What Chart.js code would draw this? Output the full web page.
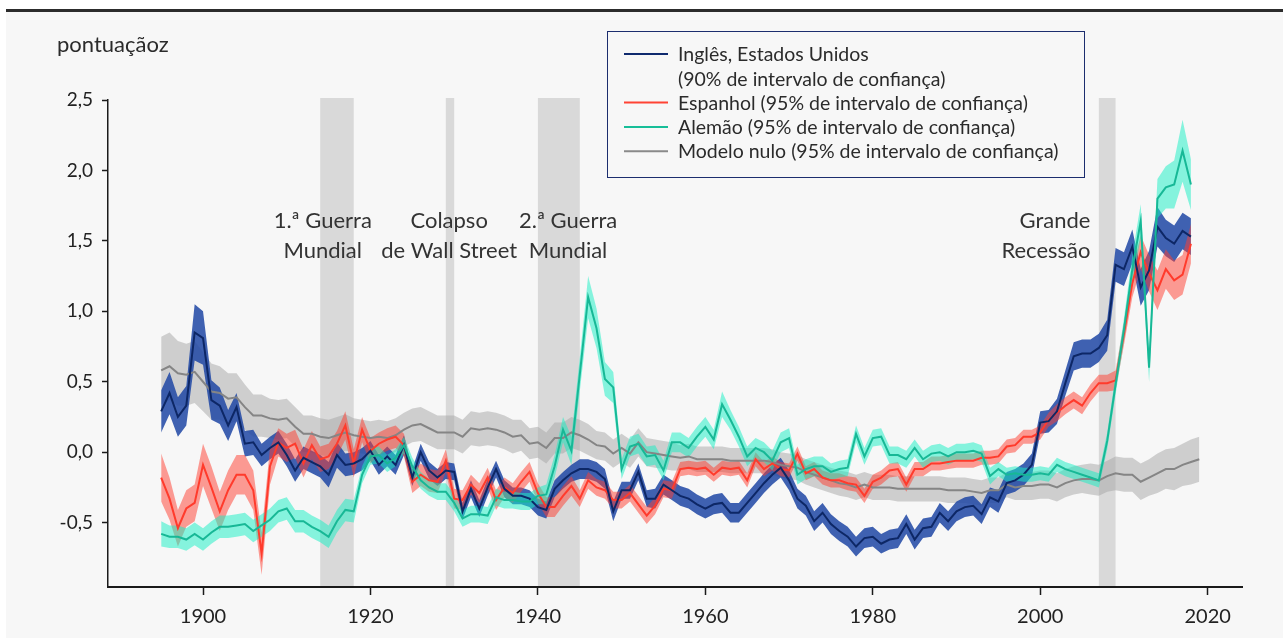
<!DOCTYPE html>
<html>
<head>
<meta charset="utf-8">
<script src="https://cdn.jsdelivr.net/npm/chart.js"></script>
<style>
  html, body { margin: 0; padding: 0; background: #fff; }
  #paper { position: absolute; left: 6px; top: 9px; width: 1277px; height: 626px; border-top: 3px solid #2c2c2c; background: #f7f7f7; }
  #chart { position: absolute; left: 0; top: 0; }
</style>
</head>
<body>
<div id="paper"></div>
<canvas id="chart" width="1283" height="638"></canvas>
<script>
// anos 1895..2019
const startYear = 1895;

const ingles = [
  0.29, 0.42, 0.25, 0.33, 0.85, 0.81, 0.37, 0.33, 0.19, 0.32,
  0.06, 0.07, -0.02, 0.03, 0.07, -0.02, -0.13, -0.04, -0.07, -0.10,
  -0.16, -0.02, -0.09, -0.08, -0.05, 0.01, -0.09, -0.03, -0.09, 0.05,
  -0.18, 0.00, -0.13, -0.18, -0.13, -0.14, -0.42, -0.26, -0.40, -0.25,
  -0.12, -0.26, -0.31, -0.31, -0.33, -0.39, -0.41, -0.26, -0.20, -0.15,
  -0.12, -0.12, -0.14, -0.19, -0.42, -0.27, -0.27, -0.14, -0.33, -0.33,
  -0.23, -0.27, -0.31, -0.33, -0.37, -0.40, -0.37, -0.36, -0.43, -0.43,
  -0.36, -0.29, -0.22, -0.16, -0.11, -0.20, -0.33, -0.38, -0.49, -0.43,
  -0.51, -0.56, -0.60, -0.67, -0.61, -0.60, -0.65, -0.62, -0.61, -0.51,
  -0.62, -0.54, -0.53, -0.43, -0.49, -0.42, -0.39, -0.38, -0.44, -0.32,
  -0.35, -0.22, -0.20, -0.16, -0.09, 0.21, 0.22, 0.29, 0.49, 0.68,
  0.70, 0.70, 0.74, 0.83, 1.33, 1.30, 1.46, 1.17, 1.29, 1.60,
  1.52, 1.48, 1.57, 1.53
];
const inglesHw = [
  0.15, 0.15, 0.14, 0.14, 0.20, 0.19, 0.14, 0.13, 0.11, 0.10,
  0.09, 0.09, 0.08, 0.08, 0.08, 0.08, 0.08, 0.08, 0.08, 0.08,
  0.09, 0.09, 0.08, 0.08, 0.08, 0.07, 0.07, 0.07, 0.07, 0.07,
  0.06, 0.06, 0.06, 0.06, 0.06, 0.06, 0.06, 0.06, 0.06, 0.06,
  0.06, 0.06, 0.06, 0.06, 0.06, 0.06, 0.06, 0.06, 0.06, 0.06,
  0.07, 0.07, 0.07, 0.07, 0.07, 0.06, 0.06, 0.06, 0.06, 0.07,
  0.07, 0.07, 0.07, 0.07, 0.07, 0.07, 0.07, 0.07, 0.07, 0.07,
  0.07, 0.07, 0.07, 0.07, 0.07, 0.07, 0.07, 0.07, 0.07, 0.07,
  0.07, 0.07, 0.07, 0.07, 0.07, 0.07, 0.07, 0.07, 0.07, 0.07,
  0.07, 0.07, 0.07, 0.07, 0.07, 0.07, 0.07, 0.07, 0.07, 0.07,
  0.08, 0.08, 0.08, 0.08, 0.08, 0.08, 0.08, 0.09, 0.09, 0.10,
  0.10, 0.10, 0.10, 0.11, 0.12, 0.12, 0.12, 0.13, 0.14, 0.14,
  0.13, 0.13, 0.13, 0.13
];

const espanhol = [
  -0.18, -0.33, -0.54, -0.40, -0.36, -0.09, -0.25, -0.42, -0.27, -0.16,
  -0.16, -0.27, -0.72, -0.10, 0.07, 0.03, 0.06, -0.08, 0.05, -0.05,
  -0.03, 0.06, 0.19, -0.08, 0.16, 0.01, 0.06, 0.09, 0.11, 0.05,
  -0.21, -0.16, -0.20, -0.21, -0.06, -0.33, -0.34, -0.23, -0.29, -0.18,
  -0.34, -0.25, -0.29, -0.21, -0.14, -0.29, -0.39, -0.39, -0.31, -0.24,
  -0.33, -0.20, -0.25, -0.27, -0.34, -0.34, -0.29, -0.37, -0.45, -0.38,
  -0.26, -0.27, -0.12, -0.11, -0.12, -0.11, -0.16, -0.11, -0.12, -0.11,
  -0.20, -0.05, -0.12, -0.08, -0.12, -0.13, -0.01, -0.15, -0.12, -0.18,
  -0.20, -0.20, -0.22, -0.23, -0.31, -0.21, -0.18, -0.13, -0.12, -0.23,
  -0.12, -0.12, -0.08, -0.08, -0.07, -0.06, -0.06, -0.06, -0.04, -0.04,
  -0.03, 0.04, 0.05, 0.11, 0.11, 0.14, 0.23, 0.28, 0.33, 0.37,
  0.33, 0.42, 0.49, 0.49, 0.51, 0.84, 1.20, 1.42, 1.27, 1.15,
  1.30, 1.22, 1.26, 1.48
];
const espanholHw = [
  0.17, 0.15, 0.13, 0.13, 0.13, 0.15, 0.15, 0.14, 0.14, 0.14,
  0.14, 0.14, 0.15, 0.13, 0.10, 0.10, 0.10, 0.10, 0.10, 0.09,
  0.09, 0.09, 0.10, 0.10, 0.09, 0.09, 0.08, 0.08, 0.08, 0.08,
  0.08, 0.08, 0.08, 0.08, 0.08, 0.07, 0.07, 0.07, 0.07, 0.07,
  0.07, 0.07, 0.07, 0.07, 0.07, 0.07, 0.07, 0.07, 0.07, 0.07,
  0.06, 0.06, 0.06, 0.06, 0.06, 0.06, 0.06, 0.06, 0.06, 0.06,
  0.06, 0.06, 0.05, 0.05, 0.05, 0.05, 0.05, 0.05, 0.05, 0.05,
  0.05, 0.05, 0.05, 0.05, 0.05, 0.05, 0.05, 0.05, 0.05, 0.05,
  0.05, 0.05, 0.05, 0.05, 0.05, 0.05, 0.05, 0.05, 0.05, 0.05,
  0.05, 0.05, 0.05, 0.05, 0.05, 0.05, 0.05, 0.05, 0.05, 0.05,
  0.05, 0.05, 0.05, 0.05, 0.05, 0.05, 0.05, 0.06, 0.06, 0.06,
  0.06, 0.06, 0.06, 0.06, 0.07, 0.08, 0.10, 0.12, 0.13, 0.14,
  0.14, 0.14, 0.14, 0.14
];

const alemao = [
  -0.58, -0.60, -0.60, -0.62, -0.58, -0.62, -0.57, -0.53, -0.53, -0.52,
  -0.51, -0.56, -0.52, -0.48, -0.42, -0.40, -0.49, -0.49, -0.53, -0.56,
  -0.60, -0.49, -0.41, -0.42, -0.16, -0.03, -0.02, -0.08, -0.04, 0.05,
  -0.10, -0.20, -0.25, -0.28, -0.28, -0.36, -0.47, -0.44, -0.44, -0.45,
  -0.32, -0.34, -0.34, -0.35, -0.35, -0.31, -0.30, -0.10, 0.16, 0.01,
  0.55, 1.10, 0.88, 0.52, 0.46, -0.12, 0.04, 0.06, -0.03, -0.02,
  -0.13, 0.07, 0.07, 0.03, 0.11, 0.18, 0.09, 0.34, 0.23, 0.11,
  -0.03, 0.03, 0.00, -0.06, 0.07, 0.10, -0.16, -0.12, -0.10, -0.10,
  -0.14, -0.12, -0.11, 0.13, -0.03, 0.10, 0.11, -0.02, -0.02, -0.05,
  0.03, -0.05, -0.01, 0.00, -0.03, 0.00, 0.00, 0.01, -0.01, -0.17,
  -0.12, -0.16, -0.15, -0.16, -0.16, -0.15, -0.16, -0.09, -0.12, -0.14,
  -0.16, -0.18, -0.20, 0.08, 0.48, 0.87, 1.30, 1.64, 0.60, 1.80,
  1.88, 1.90, 2.14, 1.90
];
const alemaoHw = [
  0.09, 0.08, 0.08, 0.08, 0.08, 0.08, 0.08, 0.08, 0.08, 0.08,
  0.08, 0.08, 0.08, 0.08, 0.08, 0.08, 0.08, 0.08, 0.08, 0.08,
  0.08, 0.08, 0.08, 0.08, 0.06, 0.06, 0.06, 0.06, 0.06, 0.06,
  0.06, 0.06, 0.06, 0.06, 0.06, 0.06, 0.06, 0.06, 0.06, 0.06,
  0.06, 0.06, 0.06, 0.06, 0.06, 0.06, 0.07, 0.08, 0.09, 0.10,
  0.12, 0.15, 0.14, 0.12, 0.11, 0.07, 0.07, 0.07, 0.07, 0.07,
  0.07, 0.07, 0.07, 0.07, 0.07, 0.07, 0.07, 0.09, 0.07, 0.07,
  0.07, 0.07, 0.07, 0.07, 0.07, 0.07, 0.07, 0.07, 0.07, 0.07,
  0.06, 0.06, 0.06, 0.06, 0.06, 0.06, 0.06, 0.06, 0.06, 0.06,
  0.06, 0.06, 0.06, 0.06, 0.06, 0.06, 0.06, 0.06, 0.06, 0.06,
  0.05, 0.05, 0.05, 0.05, 0.05, 0.05, 0.05, 0.05, 0.05, 0.05,
  0.05, 0.05, 0.05, 0.06, 0.07, 0.08, 0.10, 0.12, 0.10, 0.14,
  0.15, 0.17, 0.22, 0.18
];

const nulo = [
  0.58, 0.61, 0.56, 0.55, 0.57, 0.50, 0.43, 0.42, 0.38, 0.39,
  0.32, 0.26, 0.26, 0.24, 0.23, 0.24, 0.18, 0.13, 0.13, 0.11,
  0.10, 0.12, 0.14, 0.12, 0.11, 0.10, 0.11, 0.10, 0.12, 0.16,
  0.19, 0.20, 0.17, 0.14, 0.14, 0.14, 0.11, 0.17, 0.16, 0.17,
  0.16, 0.14, 0.11, 0.12, 0.06, 0.07, 0.03, 0.10, 0.10, 0.14,
  0.12, 0.09, 0.05, 0.04, -0.01, 0.03, -0.01, 0.07, 0.00, -0.01,
  -0.02, -0.03, -0.04, -0.03, -0.05, -0.05, -0.05, -0.05, -0.06, -0.06,
  -0.06, -0.06, -0.06, -0.07, -0.09, -0.10, -0.11, -0.14, -0.16, -0.18,
  -0.20, -0.22, -0.23, -0.25, -0.23, -0.25, -0.25, -0.25, -0.26, -0.26,
  -0.26, -0.26, -0.26, -0.26, -0.27, -0.27, -0.27, -0.28, -0.29, -0.27,
  -0.27, -0.23, -0.25, -0.24, -0.24, -0.23, -0.23, -0.25, -0.22, -0.20,
  -0.19, -0.19, -0.20, -0.17, -0.15, -0.16, -0.16, -0.21, -0.18, -0.15,
  -0.12, -0.12, -0.09, -0.07, -0.05
];
const nuloHw = [
  0.24, 0.24, 0.23, 0.22, 0.22, 0.21, 0.20, 0.19, 0.18, 0.17,
  0.16, 0.15, 0.15, 0.14, 0.14, 0.14, 0.14, 0.13, 0.13, 0.13,
  0.13, 0.13, 0.13, 0.12, 0.12, 0.12, 0.12, 0.12, 0.12, 0.12,
  0.12, 0.12, 0.12, 0.12, 0.12, 0.12, 0.12, 0.12, 0.12, 0.12,
  0.12, 0.12, 0.12, 0.11, 0.11, 0.11, 0.11, 0.11, 0.11, 0.11,
  0.11, 0.11, 0.10, 0.10, 0.10, 0.10, 0.10, 0.10, 0.10, 0.10,
  0.10, 0.10, 0.09, 0.09, 0.09, 0.09, 0.09, 0.09, 0.09, 0.09,
  0.09, 0.09, 0.09, 0.09, 0.09, 0.09, 0.09, 0.09, 0.09, 0.09,
  0.09, 0.09, 0.09, 0.09, 0.09, 0.09, 0.09, 0.09, 0.09, 0.09,
  0.09, 0.09, 0.09, 0.09, 0.09, 0.09, 0.09, 0.09, 0.09, 0.09,
  0.09, 0.09, 0.09, 0.10, 0.10, 0.10, 0.10, 0.10, 0.10, 0.10,
  0.10, 0.11, 0.11, 0.11, 0.12, 0.12, 0.12, 0.13, 0.13, 0.14,
  0.14, 0.15, 0.15, 0.16, 0.16
];

// periodos de crise (faixas cinzentas)
const crisisStart = [1914, 1929, 1940, 2007];
const crisisEnd = [1918, 1930, 1945, 2009];
const crisisLabels = [
  { lines: ['1.ª Guerra', 'Mundial'], year: 1914.3, align: 'center' },
  { lines: ['Colapso', 'de Wall Street'], year: 1929.4, align: 'center' },
  { lines: ['2.ª Guerra', 'Mundial'], year: 1943.6, align: 'center' },
  { lines: ['Grande', 'Recessão'], year: 2006.0, align: 'right' }
];
const labelRows = [1.645, 1.43];

const yTicks = [-0.5, 0, 0.5, 1, 1.5, 2, 2.5];
const xTicks = [1900, 1920, 1940, 1960, 1980, 2000, 2020];

const legendItems = [
  { text: ['Inglês, Estados Unidos', '(90% de intervalo de confiança)'], color: '#0f2a6e' },
  { text: ['Espanhol (95% de intervalo de confiança)'], color: '#ff4334' },
  { text: ['Alemão (95% de intervalo de confiança)'], color: '#17be98' },
  { text: ['Modelo nulo (95% de intervalo de confiança)'], color: '#8a8a8a' }
];

function pts(vals) {
  return vals.map((v, i) => ({ x: startYear + i, y: v }));
}
function bandPts(vals, hw, sign) {
  return vals.map((v, i) => ({ x: startYear + i, y: v + sign * hw[i] }));
}

function lineSet(label, vals, color) {
  return { label, data: pts(vals), borderColor: color, borderWidth: 2, pointRadius: 0, fill: false, tension: 0 };
}
function upperSet(vals, hw, fillColor) {
  return { data: bandPts(vals, hw, 1), borderWidth: 0, pointRadius: 0, backgroundColor: fillColor, fill: '+1', tension: 0 };
}
function lowerSet(vals, hw) {
  return { data: bandPts(vals, hw, -1), borderWidth: 0, pointRadius: 0, fill: false, tension: 0 };
}

const datasets = [
  lineSet('Alemão', alemao, '#17b896'),
  lineSet('Inglês', ingles, '#0d2766'),
  lineSet('Espanhol', espanhol, '#ff3b2c'),
  lineSet('Modelo nulo', nulo, '#858585'),
  upperSet(alemao, alemaoHw, 'rgba(20,240,195,0.5)'),
  lowerSet(alemao, alemaoHw),
  upperSet(espanhol, espanholHw, 'rgba(255,60,45,0.5)'),
  lowerSet(espanhol, espanholHw),
  upperSet(ingles, inglesHw, 'rgba(30,70,165,0.85)'),
  lowerSet(ingles, inglesHw),
  upperSet(nulo, nuloHw, 'rgba(165,165,165,0.5)'),
  lowerSet(nulo, nuloHw)
];

const decor = {
  id: 'decor',
  beforeDraw(chart) {
    const { ctx, chartArea, scales: { x } } = chart;
    ctx.save();
    ctx.fillStyle = '#d9d9d9';
    crisisStart.forEach((s, i) => {
      const x0 = x.getPixelForValue(s);
      const x1 = x.getPixelForValue(crisisEnd[i]);
      ctx.fillRect(x0, chartArea.top - 2, x1 - x0, chartArea.bottom - chartArea.top + 2);
    });
    ctx.restore();
  },
  afterDraw(chart) {
    const { ctx, scales: { x, y } } = chart;
    ctx.save();
    ctx.fillStyle = '#2b2b2b';
    ctx.textBaseline = 'middle';

    // titulo do eixo
    ctx.font = '22px Lato';
    ctx.textAlign = 'left';
    ctx.fillText('pontuaçãoz', 57, 45);

    // nomes das crises
    ctx.font = '22px Lato';
    ctx.fillStyle = '#333';
    crisisLabels.forEach(c => {
      ctx.textAlign = c.align;
      c.lines.forEach((t, j) => {
        ctx.fillText(t, x.getPixelForValue(c.year), y.getPixelForValue(labelRows[j]));
      });
    });

    // legenda
    ctx.fillStyle = '#f7f7f7';
    ctx.fillRect(607, 31, 477, 146);
    ctx.strokeStyle = '#1c2d6e';
    ctx.lineWidth = 1;
    ctx.strokeRect(607.5, 31.5, 477, 146);
    ctx.font = '19.5px Lato';
    ctx.textAlign = 'left';
    let rowY = 55;
    legendItems.forEach(item => {
      ctx.strokeStyle = item.color;
      ctx.lineWidth = 2;
      ctx.beginPath();
      ctx.moveTo(624, rowY - 1);
      ctx.lineTo(668, rowY - 1);
      ctx.stroke();
      ctx.fillStyle = '#2b2b2b';
      item.text.forEach(t => {
        ctx.fillText(t, 678, rowY);
        rowY += 24.3;
      });
    });
    ctx.restore();
  }
};

new Chart(document.getElementById('chart'), {
  type: 'line',
  data: { datasets },
  options: {
    responsive: false,
    animation: false,
    devicePixelRatio: 1,
    layout: { padding: { top: 100, right: 41, left: 0, bottom: 0 } },
    plugins: {
      legend: { display: false },
      tooltip: { enabled: false },
      filler: { drawTime: 'beforeDatasetsDraw' }
    },
    scales: {
      x: {
        type: 'linear',
        min: 1888.65,
        max: 2024.1,
        afterFit(scale) { scale.height = 51; },
        afterBuildTicks(scale) { scale.ticks = xTicks.map(v => ({ value: v })); },
        grid: { drawOnChartArea: false, drawTicks: true, tickLength: 8, tickColor: '#1a1a1a', tickWidth: 1.5 },
        border: { color: '#1a1a1a', width: 2 },
        ticks: {
          autoSkip: false, maxRotation: 0, padding: 10,
          color: '#222', font: { family: 'Lato', size: 20 },
          callback: v => String(v)
        }
      },
      y: {
        type: 'linear',
        min: -0.957,
        max: 2.5,
        afterFit(scale) { scale.width = 108; },
        afterBuildTicks(scale) { scale.ticks = yTicks.map(v => ({ value: v })); },
        grid: { drawOnChartArea: false, drawTicks: true, tickLength: 6, tickColor: '#1a1a1a', tickWidth: 1.5 },
        border: { color: '#1a1a1a', width: 1.5 },
        ticks: {
          padding: 9,
          color: '#222', font: { family: 'Lato', size: 19 },
          callback: v => v.toFixed(1).replace('.', ',')
        }
      }
    }
  },
  plugins: [decor]
});
</script>
</body>
</html>
